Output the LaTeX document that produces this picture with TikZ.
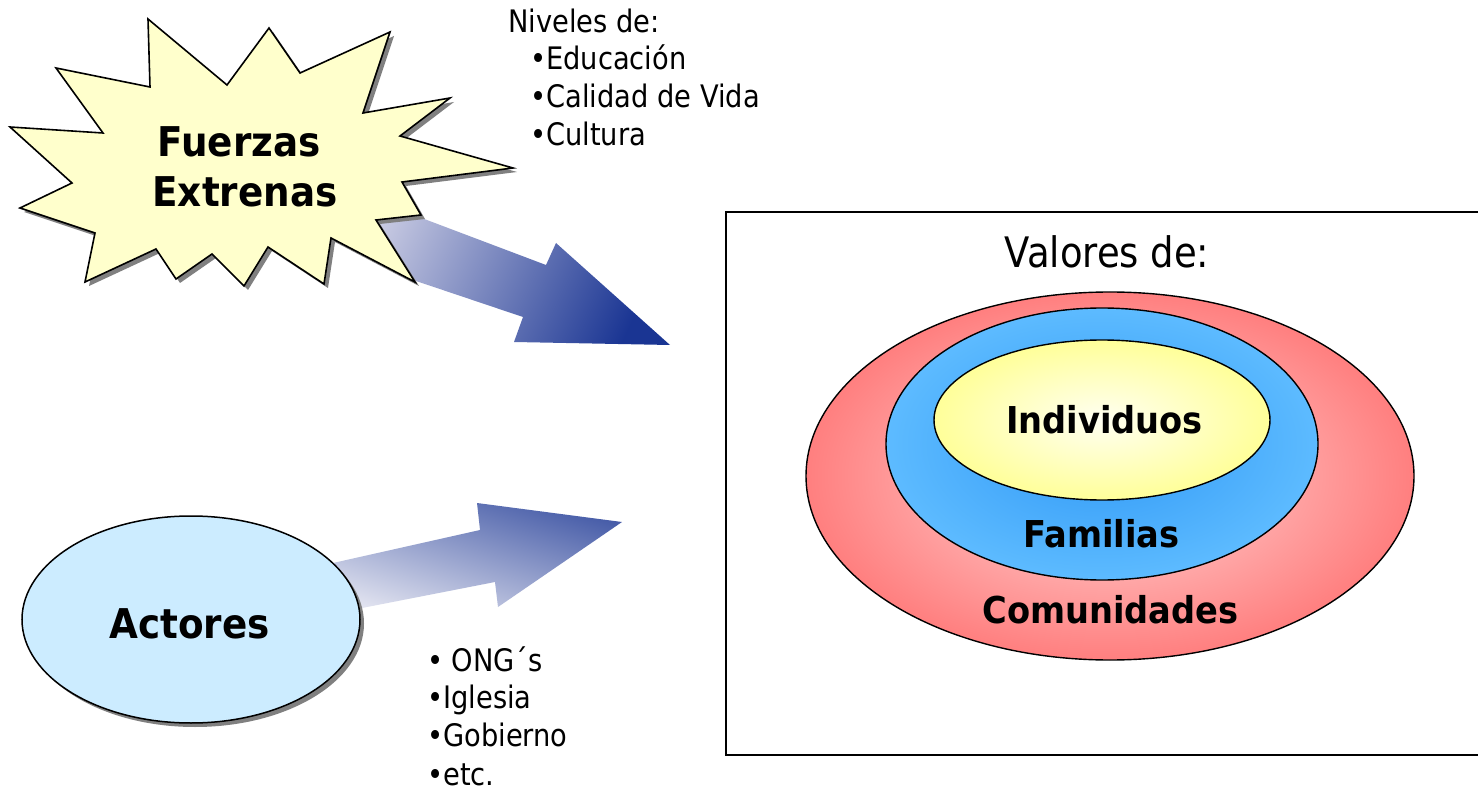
\documentclass[tikz,border=0pt]{standalone}
\usepackage{fontspec}
\newfontfamily\regf{DejaVu Sans}[FakeStretch=0.88]
\newfontfamily\boldf{DejaVu Sans}[FakeStretch=0.91]
\definecolor{starfill}{HTML}{FFFFCC}
\definecolor{shadowgray}{HTML}{808080}
\definecolor{actfill}{HTML}{CCECFF}
\definecolor{arrlight}{HTML}{CACCE3}
\definecolor{arrdark}{HTML}{1A3593}
\definecolor{redout}{HTML}{FF7F7F}
\definecolor{redin}{HTML}{FFDADA}
\definecolor{blueout}{HTML}{5DBBFF}
\definecolor{bluein}{HTML}{2F98F6}
\definecolor{yelout}{HTML}{FFFF99}
\definecolor{yelin}{HTML}{FFFFF2}
\def\starpath{(148,19) -- (227,85) -- (269,28) -- (300,73) -- (390,32) -- (363,113) -- (450,98) -- (400,136) -- (513,168) -- (402,182) -- (421,215) -- (376,220) -- (415,282) -- (331,238) -- (324,284) -- (268,247) -- (244,286) -- (212,254) -- (176,279) -- (156,249) -- (85,282) -- (95,233) -- (20,208) -- (72,183) -- (10,127) -- (103,133) -- (56,68) -- (150,87) -- cycle}
\begin{document}
\begin{tikzpicture}[x=1pt,y=-1pt,
  outl/.style={draw=black, line width=1.6pt, line join=miter},
  ringline/.style={draw=black, line width=1.4pt},
  bigb/.style={font=\boldf\bfseries\fontsize{41}{48}\selectfont, inner sep=0pt, anchor=base},
  midb/.style={font=\boldf\bfseries\fontsize{37}{44}\selectfont, inner sep=0pt, anchor=base},
  titler/.style={font=\regf\fontsize{42}{50}\selectfont, inner sep=0pt, anchor=base},
  listr/.style={font=\regf\fontsize{31}{37}\selectfont, inner sep=0pt, anchor=base west}]
\useasboundingbox (0,0) rectangle (1478,791);
\clip (0,0) rectangle (1478,791);
\fill[white] (0,0) rectangle (1478,791);

% upper block arrow (behind the starburst)
\coordinate (ua1) at (370,198.5);
\coordinate (ua2) at (546,265);
\coordinate (ua3) at (556,243);
\coordinate (utip) at (670,345);
\coordinate (ua5) at (514,342);
\coordinate (ua6) at (523,317);
\coordinate (ua7) at (416,281);
\coordinate (ua8) at (340,240);
\shade[top color=arrlight, bottom color=arrdark, shading angle=65]
  (ua1) -- (ua2) -- (ua3) -- (utip) -- (ua5) -- (ua6) -- (ua7) -- (ua8) -- cycle;

% lower block arrow (behind Actores)
\coordinate (la1) at (300,570.4);
\coordinate (la2) at (480,530);
\coordinate (la3) at (477,503);
\coordinate (ltip) at (622,522);
\coordinate (la5) at (498,607);
\coordinate (la6) at (495,582);
\coordinate (la7) at (362,608);
\coordinate (la8) at (330,614.3);
\shade[top color=arrdark!80!white, bottom color=arrlight!45!white, shading angle=-18]
  (la1) -- (la2) -- (la3) -- (ltip) -- (la5) -- (la6) -- (la7) -- (la8) -- cycle;

% starburst
\fill[shadowgray, shift={(4,4)}] \starpath;
\path[fill=starfill, outl] \starpath;
\node[bigb] (fuer) at (239,157) {Fuerzas};
\node[bigb] (extr) at (245,207) {Extrenas};

% Actores ellipse
\fill[shadowgray] (195,623.5) ellipse [x radius=169pt, y radius=103.5pt];
\path[fill=actfill, outl, line width=1.5pt] (191,619.5) ellipse [x radius=169pt, y radius=103.5pt];
\node[bigb] (act) at (189.5,638) {Actores};

% lists
\node[listr] (niv) at (508,33) {Niveles de:};
\node[listr] (edu) at (530,70) {•Educación};
\node[listr] (cal) at (530,108) {•Calidad de Vida};
\node[listr] (cul) at (530,146) {•Cultura};
\node[listr] (ong) at (427,671) {• ONG´s};
\node[listr] (igl) at (427,708) {•Iglesia};
\node[listr] (gob) at (427,746) {•Gobierno};
\node[listr] (etc) at (427,785) {•etc.};

% values box
\draw[line width=2.2pt] (726,212) rectangle (1490,755);
\node[titler] (val) at (1107,268) {Valores de:};
\shade[inner color=redin, outer color=redout] (1110,476) ellipse [x radius=304pt, y radius=184pt];
\draw[ringline] (1110,476) ellipse [x radius=304pt, y radius=184pt];
\shade[inner color=bluein, outer color=blueout] (1102,444) ellipse [x radius=216pt, y radius=136pt];
\draw[ringline] (1102,444) ellipse [x radius=216pt, y radius=136pt];
\shade[inner color=yelin, outer color=yelout] (1102,420) ellipse [x radius=168pt, y radius=80pt];
\draw[ringline] (1102,420) ellipse [x radius=168pt, y radius=80pt];
\node[midb] (ind) at (1104.5,433.5) {Individuos};
\node[midb] (fam) at (1101.5,547) {Familias};
\node[midb] (com) at (1110.5,623.6) {Comunidades};
\end{tikzpicture}
\end{document}
